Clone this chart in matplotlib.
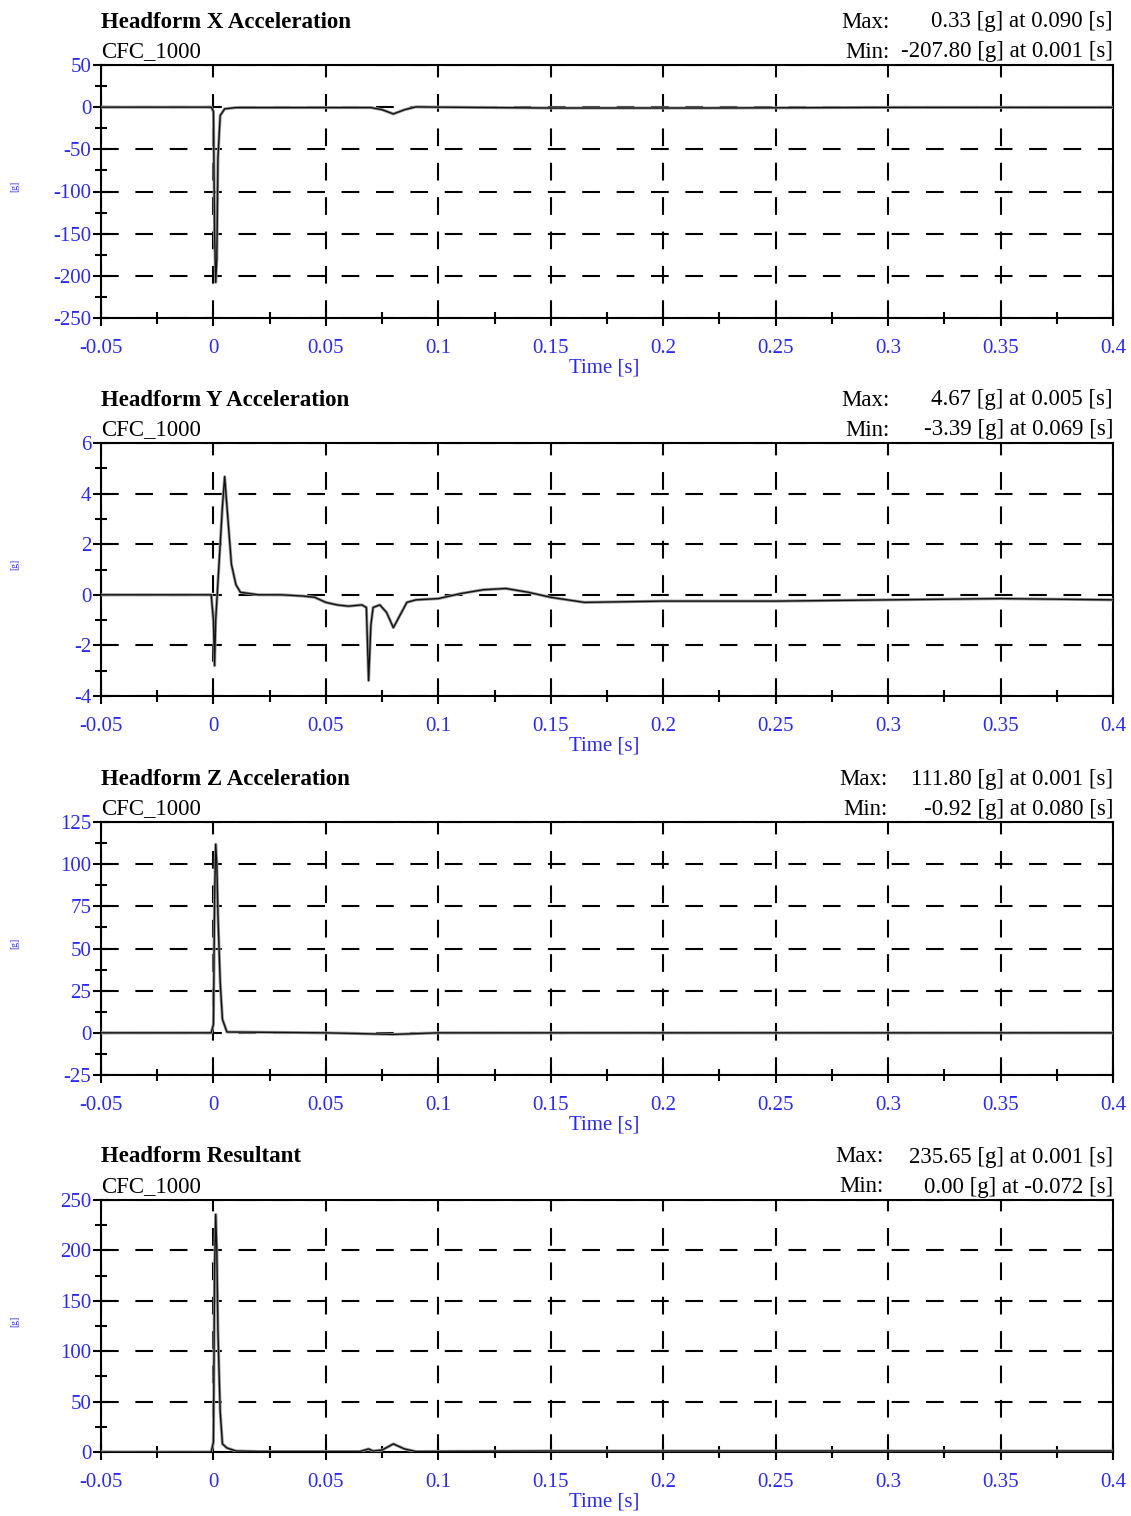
import matplotlib
matplotlib.use("Agg")
import matplotlib.pyplot as plt
from matplotlib.ticker import MultipleLocator, FixedLocator

plt.rcParams["axes.unicode_minus"] = False

# ---------------- data ----------------
titles = ["Headform X Acceleration", "Headform Y Acceleration",
          "Headform Z Acceleration", "Headform Resultant"]
filter_label = "CFC_1000"
max_texts = ["0.33 [g] at 0.090 [s]", "4.67 [g] at 0.005 [s]",
             "111.80 [g] at 0.001 [s]", "235.65 [g] at 0.001 [s]"]
min_texts = ["-207.80 [g] at 0.001 [s]", "-3.39 [g] at 0.069 [s]",
             "-0.92 [g] at 0.080 [s]", "0.00 [g] at -0.072 [s]"]

x_time = [-0.05, -0.001, 0.0, 0.0005, 0.001, 0.0015, 0.002, 0.003, 0.005, 0.01,
          0.07, 0.075, 0.08, 0.085, 0.09, 0.1, 0.15, 0.22, 0.3, 0.4]
x_acc = [0, 0, -5, -150, -207.8, -180, -60, -10, -2, -0.5,
         -0.5, -3, -8, -3, 0.33, 0, -1, -1, -0.3, -0.3]

y_time = [-0.05, -0.001, 0.0, 0.0005, 0.001, 0.002, 0.003, 0.004, 0.005, 0.006,
          0.008, 0.010, 0.012, 0.02, 0.03, 0.04, 0.045, 0.05, 0.055, 0.06, 0.066,
          0.068, 0.069, 0.070, 0.071, 0.074, 0.077, 0.080, 0.083, 0.086, 0.09,
          0.1, 0.11, 0.12, 0.13, 0.14, 0.15, 0.165, 0.2, 0.25, 0.3, 0.35, 0.4]
y_acc = [0, 0, -1.0, -2.8, -1.0, 0.5, 2.0, 3.5, 4.67, 3.5,
         1.2, 0.4, 0.1, 0.0, 0.0, -0.05, -0.1, -0.3, -0.4, -0.45, -0.4,
         -0.5, -3.39, -1.2, -0.5, -0.4, -0.7, -1.3, -0.8, -0.3, -0.2,
         -0.15, 0.05, 0.2, 0.25, 0.1, -0.1, -0.3, -0.25, -0.25, -0.2, -0.15, -0.2]

z_time = [-0.05, -0.001, 0.0, 0.0005, 0.001, 0.0015, 0.002, 0.003, 0.004, 0.006,
          0.05, 0.08, 0.1, 0.4]
z_acc = [0, 0, 5, 80, 111.8, 100, 70, 30, 8, 0.5,
         0, -0.92, 0, 0]

r_time = [-0.05, -0.001, 0.0, 0.0005, 0.001, 0.0015, 0.002, 0.003, 0.004, 0.006,
          0.01, 0.02, 0.065, 0.069, 0.071, 0.075, 0.08, 0.085, 0.09, 0.15, 0.4]
r_acc = [0, 0, 10, 180, 235.65, 200, 120, 40, 8, 4,
         1, 0.5, 0.5, 3, 1, 2, 8, 3, 0.5, 1, 1]

series_t = [x_time, y_time, z_time, r_time]
series_v = [x_acc, y_acc, z_acc, r_acc]

y_limits = [(-250, 50), (-4, 6), (-25, 125), (0, 250)]
y_major = [50, 2, 25, 50]
y_minor = [25, 1, 12.5, 25]
x_ticks = [-0.05, 0, 0.05, 0.1, 0.15, 0.2, 0.25, 0.3, 0.35, 0.4]
x_ticklabels = ["-0.05", "0", "0.05", "0.1", "0.15", "0.2", "0.25", "0.3", "0.35", "0.4"]

# ---------------- layout ----------------
W, H = 1131, 1516
fig = plt.figure(figsize=(W / 100, H / 100), dpi=100)
serif = ["Liberation Serif", "DejaVu Serif"]
blue = "#2a2af0"

panels_px = [(65, 318), (443, 696), (822, 1075), (1200, 1452)]
left_px, right_px = 101, 1113
minlabel_px = [890, 890, 888, 884]
fs = 16.5

for i, (top, bot) in enumerate(panels_px):
    ax = fig.add_axes([left_px / W, 1 - bot / H, (right_px - left_px) / W, (bot - top) / H])
    ax.plot(series_t[i], series_v[i], color="#9a9a9a", lw=2.2, zorder=3)
    ax.plot(series_t[i], series_v[i], color="#111111", lw=1.0, zorder=4)
    ax.set_xlim(-0.05, 0.4)
    ax.set_ylim(*y_limits[i])
    ax.xaxis.set_major_locator(FixedLocator(x_ticks))
    ax.set_xticklabels(x_ticklabels)
    ax.xaxis.set_minor_locator(MultipleLocator(0.025))
    ax.yaxis.set_major_locator(MultipleLocator(y_major[i]))
    ax.yaxis.set_minor_locator(MultipleLocator(y_minor[i]))
    ax.tick_params(which="major", direction="inout", length=12, width=1.5,
                   labelsize=15, labelcolor=blue)
    ax.tick_params(axis="x", which="major", pad=9)
    ax.tick_params(axis="y", which="major", pad=1)
    ax.tick_params(which="minor", direction="inout", length=8, width=1.5)
    for lab in ax.get_xticklabels() + ax.get_yticklabels():
        lab.set_family(serif)
    for s in ax.spines.values():
        s.set_linewidth(1.5)
    ax.grid(True, which="major", color="black", lw=1.5, linestyle=(0, (8.5, 8)))
    ax.set_axisbelow(False)

    hgt = bot - top
    ax.text(0.0, 1 + 43 / hgt, titles[i], transform=ax.transAxes, ha="left",
            va="center", fontsize=fs, fontweight="bold", family=serif)
    ax.text(0.0, 1 + 13 / hgt, filter_label, transform=ax.transAxes, ha="left",
            va="center", fontsize=fs, family=serif)
    xl = (minlabel_px[i] - left_px) / (right_px - left_px)
    ax.text(xl, 1 + 43 / hgt, "Max:", transform=ax.transAxes, ha="right",
            va="center", fontsize=fs, family=serif)
    ax.text(xl, 1 + 13 / hgt, "Min:", transform=ax.transAxes, ha="right",
            va="center", fontsize=fs, family=serif)
    ax.text(1.0, 1 + 43 / hgt, max_texts[i], transform=ax.transAxes, ha="right",
            va="center", fontsize=fs, family=serif)
    ax.text(1.0, 1 + 13 / hgt, min_texts[i], transform=ax.transAxes, ha="right",
            va="center", fontsize=fs, family=serif)
    ax.text(0.497, -50 / hgt, "Time [s]", transform=ax.transAxes, ha="center",
            va="center", fontsize=15, color=blue, family=serif)
    fig.text(15 / W, 1 - (top + hgt * 0.48) / H, "[g]", ha="center", va="center",
             fontsize=7, color=blue, rotation=90, family=serif)

fig.savefig("out.png", dpi=100, facecolor="white")
